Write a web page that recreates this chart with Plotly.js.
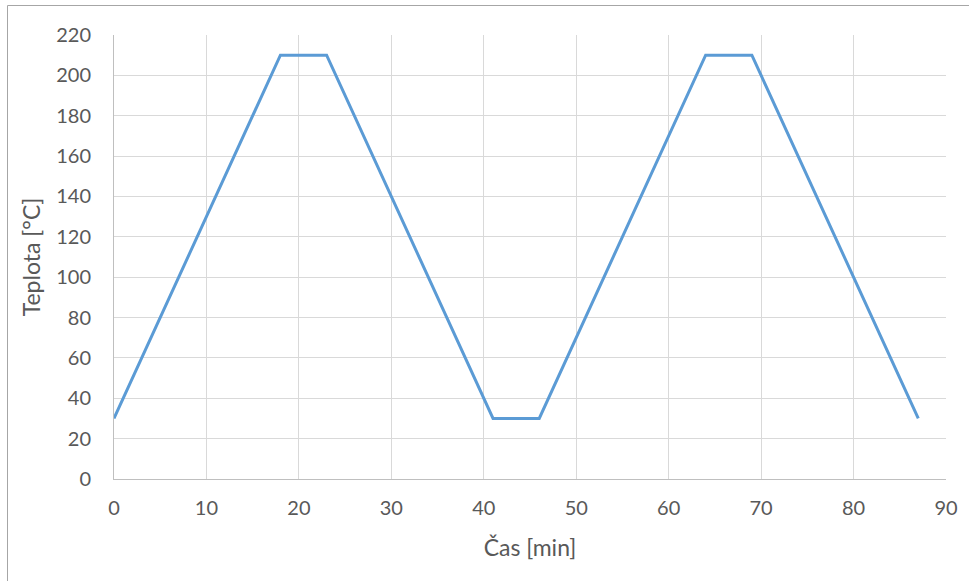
<!DOCTYPE html>
<html><head><meta charset="utf-8">
<script src="https://cdn.plot.ly/plotly-3.0.1.min.js"></script>
<style>html,body{margin:0;padding:0;background:#fff}#c{width:969px;height:581px}</style>
</head><body><div id="c"></div>
<script>
const timeMin = [0, 18, 23, 41, 46, 64, 69, 87];
const tempC = [30, 210, 210, 30, 30, 210, 210, 30];
const xTicks = [0, 10, 20, 30, 40, 50, 60, 70, 80, 90];
const yTicks = [0, 20, 40, 60, 80, 100, 120, 140, 160, 180, 200, 220];
const xTitle = 'Čas [min]';
const yTitle = 'Teplota [°C]';

const L = 114, R = 23, T = 35, B = 102, W = 969, H = 581;
const pw = W - L - R, ph = H - T - B;
const fam = 'Lato, Open Sans, sans-serif';
const tickFont = {family: fam, size: 20, color: '#595959'};
const titleFont = {family: fam, size: 23, color: '#595959'};

Plotly.newPlot('c', [{
  x: timeMin, y: tempC, type: 'scatter', mode: 'lines',
  line: {color: '#5b9bd5', width: 3}, hoverinfo: 'skip'
}], {
  width: W, height: H,
  margin: {l: L, r: R, t: T, b: B, pad: 0},
  paper_bgcolor: '#fff', plot_bgcolor: '#fff',
  font: tickFont, showlegend: false,
  xaxis: {
    range: [0, 90], tickvals: xTicks, ticktext: xTicks.map(String),
    showgrid: true, gridcolor: '#d9d9d9', gridwidth: 1,
    showline: true, linecolor: '#bfbfbf', linewidth: 1, zeroline: false,
    ticks: '', ticklabelstandoff: 11, tickfont: tickFont,
    title: {text: xTitle, font: titleFont, standoff: 21}
  },
  yaxis: {
    range: [0, 220], tickvals: yTicks, ticktext: yTicks.map(String),
    showgrid: true, gridcolor: '#d9d9d9', gridwidth: 1,
    showline: true, linecolor: '#bfbfbf', linewidth: 1, zeroline: false,
    ticks: '', ticklabelstandoff: 18, tickfont: tickFont,
    title: {text: yTitle, font: titleFont, standoff: 9}
  },
  shapes: [{
    type: 'rect', xref: 'paper', yref: 'paper', layer: 'below',
    x0: (7.5 - L) / pw, x1: (W + 10 - L) / pw,
    y0: (H - B - (H + 10)) / ph, y1: (H - B - 5.5) / ph,
    line: {color: '#a6a6a6', width: 1}, fillcolor: 'rgba(0,0,0,0)'
  }]
}, {staticPlot: true, displayModeBar: false});
</script></body></html>
